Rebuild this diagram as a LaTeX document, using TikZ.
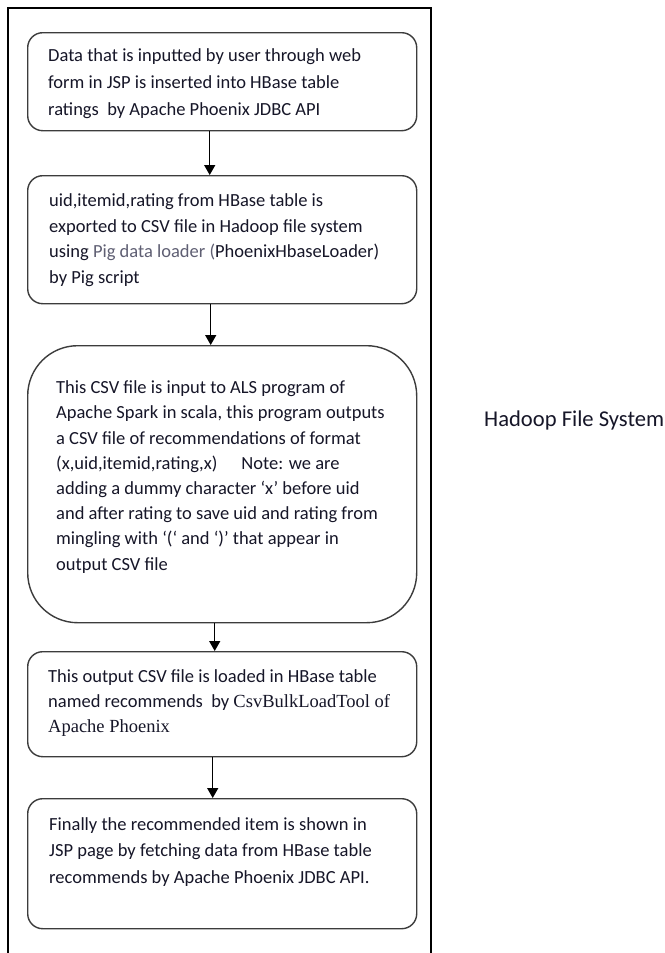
\documentclass[tikz,border=0pt]{standalone}
\usepackage{fontspec}
\setmainfont{Carlito}
\newfontfamily\serifpart{Liberation Serif}
\usetikzlibrary{arrows.meta}
\definecolor{txt}{RGB}{22,22,40}
\definecolor{pig}{RGB}{95,95,115}
\definecolor{boxline}{RGB}{60,60,60}
\tikzset{
  flowbox/.style={draw=boxline, line width=1.4bp, rounded corners=15bp, inner sep=0pt},
  flowtext/.style={anchor=base west, align=left, inner sep=0pt, text=txt,
     font=\fontsize{18.5bp}{26bp}\selectfont},
  flowarrow/.style={line width=1.4bp, -{Triangle[width=11bp,length=10bp]}},
}
\begin{document}
\begin{tikzpicture}[x=1bp,y=-1bp]
\useasboundingbox (0,0) rectangle (665,953);
\fill[white] (0,0) rectangle (665,953);
% outer frame (runs off the bottom)
\draw[line width=1.3bp] (8,960) -- (8,8) -- (431,8) -- (431,960);

\node[flowbox, minimum width=389bp, minimum height=98bp, anchor=north west] (b1) at (27,32) {};
\node[flowbox, minimum width=389bp, minimum height=128bp, anchor=north west] (b2) at (27,175) {};
\node[flowbox, rounded corners=50bp, minimum width=389bp, minimum height=277bp, anchor=north west] (b3) at (27,345) {};
\node[flowbox, minimum width=389bp, minimum height=105bp, anchor=north west] (b4) at (27,651) {};
\node[flowbox, minimum width=389bp, minimum height=130bp, anchor=north west] (b5) at (27,798) {};

% anchor = baseline of the last line
\node[flowtext, font=\fontsize{18.5bp}{26.65bp}\selectfont] (t1) at (48,115) {Data that is inputted by user through web\\form in JSP is inserted into HBase table\\ratings\ \ by Apache Phoenix JDBC API};
\node[flowtext, font=\fontsize{18.5bp}{25.5bp}\selectfont] (t2) at (49,283.3) {uid,itemid,rating from HBase table is\\exported to CSV file in Hadoop file system\\using {\color{pig}Pig data loader (}PhoenixHbaseLoader)\\by Pig script};
\node[flowtext, font=\fontsize{18.5bp}{25.2bp}\selectfont] (t3) at (56,570) {This CSV file is input to ALS program of\\Apache Spark in scala, this program outputs\\a CSV file of recommendations of format\\(x,uid,itemid,rating,x)\hspace{24bp}Note: we are\\adding a dummy character ‘x’ before uid\\and after rating to save uid and rating from\\mingling with ‘(‘ and ‘)’ that appear in\\output CSV file};
\node[flowtext, font=\fontsize{18.5bp}{25bp}\selectfont] (t4) at (48,732) {This output CSV file is loaded in HBase table\\named recommends\ \ by {\serifpart CsvBulkLoadTool of}\\{\serifpart Apache Phoenix}};
\node[flowtext, font=\fontsize{18.5bp}{26.5bp}\selectfont] (t5) at (49,883) {Finally the recommended item is shown in\\JSP page by fetching data from HBase table\\recommends by Apache Phoenix JDBC API.};

\node[anchor=base west, inner sep=0pt, text=txt, font=\fontsize{22.6bp}{27bp}\selectfont] (hfs) at (484,426) {Hadoop File System};

\draw[flowarrow] ([xshift=-12.5bp]b1.south) -- ([xshift=-12.5bp]b2.north);
\draw[flowarrow] ([xshift=-11.5bp]b2.south) -- ([xshift=-11.5bp]b3.north);
\draw[flowarrow] ([xshift=-7.5bp]b3.south) -- ([xshift=-7.5bp]b4.north);
\draw[flowarrow] ([xshift=-9.5bp]b4.south) -- ([xshift=-9.5bp]b5.north);
\end{tikzpicture}
\end{document}
